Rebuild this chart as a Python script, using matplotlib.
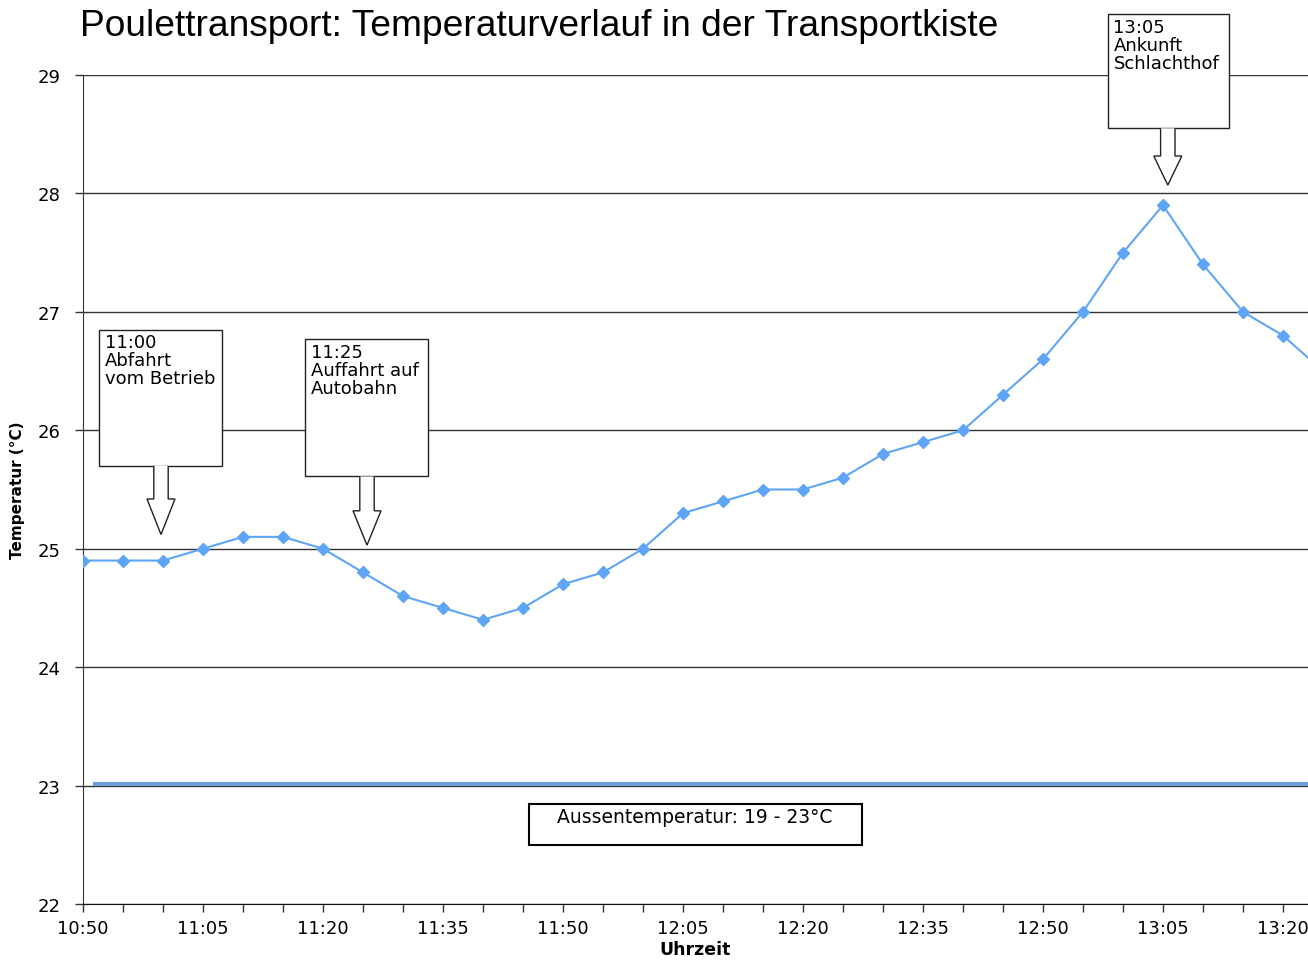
import matplotlib.pyplot as plt
import matplotlib.patches as patches

# Messzeiten und Temperaturen in der Transportkiste
zeiten = ['10:50', '10:55', '11:00', '11:05', '11:10', '11:15', '11:20', '11:25',
          '11:30', '11:35', '11:40', '11:45', '11:50', '11:55', '12:00', '12:05',
          '12:10', '12:15', '12:20', '12:25', '12:30', '12:35', '12:40', '12:45',
          '12:50', '12:55', '13:00', '13:05', '13:10', '13:15', '13:20', '13:25']
temperaturen = [24.9, 24.9, 24.9, 25.0, 25.1, 25.1, 25.0, 24.8,
                24.6, 24.5, 24.4, 24.5, 24.7, 24.8, 25.0, 25.3,
                25.4, 25.5, 25.5, 25.6, 25.8, 25.9, 26.0, 26.3,
                26.6, 27.0, 27.5, 27.9, 27.4, 27.0, 26.8, 26.5]
aussen_temp = 23.0
tick_labels = ['10:50', '11:05', '11:20', '11:35', '11:50', '12:05',
               '12:20', '12:35', '12:50', '13:05', '13:20']


def minuten(t):
    h, m = t.split(':')
    return (int(h) - 10) * 60 + int(m) - 50


x = [minuten(t) for t in zeiten]

plt.rcParams['font.family'] = ['DejaVu Sans']

fig = plt.figure(figsize=(13.08, 9.62), dpi=100)
ax = fig.add_axes([83 / 1308, 57 / 962, 1225 / 1308, 829 / 962])

# Gitterlinien
for yv in range(22, 30):
    ax.axhline(yv, color='#333333', lw=1, zorder=1)

# Aussentemperatur-Linie
ax.plot([1.25, 160], [aussen_temp + 0.015] * 2, color='#6f9fd8', lw=3, zorder=2,
        solid_capstyle='butt')

# Temperaturverlauf
ax.plot(x, temperaturen, color='#5ea5f7', lw=1.5, marker='D', markersize=6,
        zorder=3)

ax.set_xlim(0, 1225 / 8)
ax.set_ylim(22, 29)
ax.set_yticks(range(22, 30))
ax.set_xticks(range(0, 155, 5), minor=True)
ax.set_xticks([minuten(t) for t in tick_labels])
ax.set_xticklabels(tick_labels)
ax.tick_params(axis='both', which='both', length=6, width=1, color='#333333',
               labelsize=13)
ax.tick_params(axis='y', pad=10)
ax.tick_params(axis='x', pad=5)
for s in ['top', 'right']:
    ax.spines[s].set_visible(False)
ax.spines['left'].set_color('#333333')
ax.spines['bottom'].set_color('#111111')

ax.set_ylabel('Temperatur (°C)', fontsize=11, fontweight='bold', labelpad=9)
ax.set_xlabel('Uhrzeit', fontsize=12.5, fontweight='bold', labelpad=2)

fig.text(80 / 1308, 1 - 27 / 962, 'Poulettransport: Temperaturverlauf in der Transportkiste',
         fontsize=26.7, family='Liberation Sans', va='center', ha='left')


# Hinweisboxen mit Pfeil nach unten
def callout(x0, x1, ytop, ybot, tipx, shaft_end, tipy, text):
    box = patches.Rectangle((x0, ybot), x1 - x0, ytop - ybot, facecolor='white',
                            edgecolor='#222222', lw=1, zorder=5, clip_on=False)
    ax.add_patch(box)
    sw = 0.9
    hw = 1.75
    pts = [(tipx - sw, ybot), (tipx - sw, shaft_end), (tipx - hw, shaft_end),
           (tipx, tipy), (tipx + hw, shaft_end), (tipx + sw, shaft_end),
           (tipx + sw, ybot)]
    arrow = patches.Polygon(pts, closed=False, facecolor='white', edgecolor='#222222',
                            lw=1, zorder=5, clip_on=False)
    ax.add_patch(arrow)
    ax.text(x0 + 0.7, ytop - 0.03, text, ha='left', va='top', fontsize=13,
            linespacing=1.0, zorder=6, clip_on=False)


callout(2.0, 17.4, 26.85, 25.70, 9.75, 25.42, 25.12, '11:00\nAbfahrt\nvom Betrieb')
callout(27.75, 43.1, 26.77, 25.61, 35.5, 25.32, 25.03, '11:25\nAuffahrt auf\nAutobahn')
callout(128.1, 143.25, 29.515, 28.55, 135.6, 28.316, 28.07, '13:05\nAnkunft\nSchlachthof')

# Box Aussentemperatur
ax.add_patch(patches.Rectangle((55.75, 22.498), 41.65, 0.346, facecolor='white',
                               edgecolor='black', lw=1.5, zorder=5))
ax.text(76.5, 22.82, 'Aussentemperatur: 19 - 23°C', ha='center', va='top',
        fontsize=13.5, zorder=6)

plt.savefig('out.png', dpi=100)
